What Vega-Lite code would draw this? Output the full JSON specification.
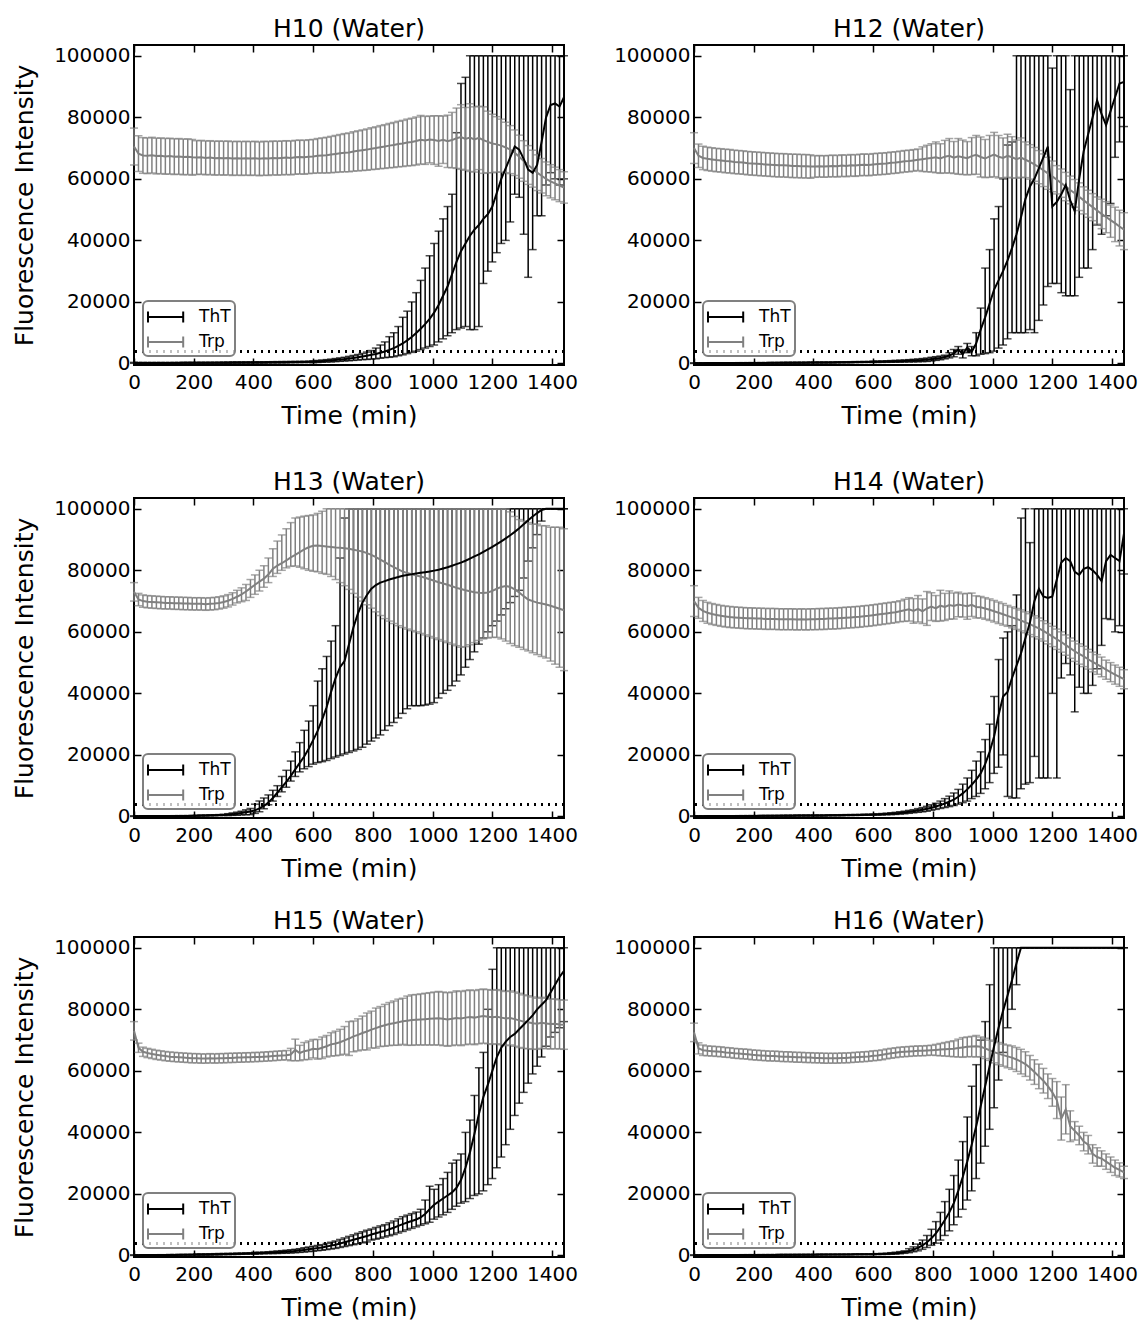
{
"$schema": "https://vega.github.io/schema/vega-lite/v6.json",
"padding": {"left": 11, "top": 16, "right": 5, "bottom": 2},
"config": {
  "font": "DejaVu Sans",
  "numberFormat": "d",
  "view": {"stroke": "black", "strokeWidth": 2},
  "axis": {"domain": false, "grid": false, "ticks": true, "tickColor": "black", "tickWidth": 1.5, "tickSize": -7, "labelFontSize": 20, "labelColor": "black", "titleFontSize": 25, "titleFontWeight": "normal", "titleColor": "black", "labelFlush": false, "labelOverlap": false},
  "axisX": {"labelPadding": 14, "titlePadding": 11},
  "axisY": {"labelPadding": 11, "titlePadding": 16},
  "title": {"fontSize": 25, "fontWeight": "normal", "color": "black", "offset": 2},
  "legend": {"orient": "bottom-left", "offset": 9, "padding": 4, "cornerRadius": 5, "strokeColor": "#808080", "strokeWidth": 2, "fillColor": "rgba(255,255,255,0.75)", "labelFontSize": 17, "labelColor": "black", "symbolType": "M-1,-0.5V0.5M2.2,-0.5V0.5M-1,0H2.2", "symbolSize": 484, "symbolStrokeWidth": 2, "labelOffset": 28, "rowPadding": 3}
},
"datasets": {
"H10": [
{"t":0,"tht":200,"thtL":50,"thtH":350,"trp":70500,"trpL":64500,"trpH":76500},
{"t":15,"tht":180,"thtL":30,"thtH":330,"trp":68200,"trpL":62400,"trpH":74000},
{"t":30,"tht":170,"thtL":20,"thtH":320,"trp":67600,"trpL":61800,"trpH":73400},
{"t":45,"tht":170,"thtL":20,"thtH":320,"trp":67500,"trpL":61700,"trpH":73300},
{"t":60,"tht":160,"thtL":10,"thtH":310,"trp":67700,"trpL":61900,"trpH":73500},
{"t":75,"tht":170,"thtL":20,"thtH":320,"trp":67400,"trpL":61600,"trpH":73200},
{"t":90,"tht":170,"thtL":20,"thtH":320,"trp":67500,"trpL":61700,"trpH":73300},
{"t":105,"tht":180,"thtL":30,"thtH":330,"trp":67300,"trpL":61500,"trpH":73100},
{"t":120,"tht":180,"thtL":30,"thtH":330,"trp":67400,"trpL":61600,"trpH":73200},
{"t":135,"tht":190,"thtL":40,"thtH":340,"trp":67200,"trpL":61400,"trpH":73000},
{"t":150,"tht":190,"thtL":40,"thtH":340,"trp":67300,"trpL":61500,"trpH":73100},
{"t":165,"tht":200,"thtL":50,"thtH":350,"trp":67100,"trpL":61300,"trpH":72900},
{"t":180,"tht":200,"thtL":50,"thtH":350,"trp":67200,"trpL":61400,"trpH":73000},
{"t":195,"tht":210,"thtL":60,"thtH":360,"trp":67000,"trpL":61200,"trpH":72800},
{"t":210,"tht":210,"thtL":60,"thtH":360,"trp":66900,"trpL":61400,"trpH":72400},
{"t":225,"tht":220,"thtL":70,"thtH":370,"trp":67000,"trpL":61500,"trpH":72500},
{"t":240,"tht":220,"thtL":70,"thtH":370,"trp":66800,"trpL":61300,"trpH":72300},
{"t":255,"tht":230,"thtL":80,"thtH":380,"trp":66900,"trpL":61400,"trpH":72400},
{"t":270,"tht":240,"thtL":90,"thtH":390,"trp":66700,"trpL":61200,"trpH":72200},
{"t":285,"tht":250,"thtL":100,"thtH":400,"trp":66800,"trpL":61300,"trpH":72300},
{"t":300,"tht":260,"thtL":60,"thtH":460,"trp":66700,"trpL":61200,"trpH":72200},
{"t":315,"tht":270,"thtL":70,"thtH":470,"trp":66800,"trpL":61300,"trpH":72300},
{"t":330,"tht":280,"thtL":80,"thtH":480,"trp":66600,"trpL":61100,"trpH":72100},
{"t":345,"tht":290,"thtL":90,"thtH":490,"trp":66700,"trpL":61200,"trpH":72200},
{"t":360,"tht":300,"thtL":100,"thtH":500,"trp":66600,"trpL":61100,"trpH":72100},
{"t":375,"tht":310,"thtL":110,"thtH":510,"trp":66700,"trpL":61200,"trpH":72200},
{"t":390,"tht":320,"thtL":120,"thtH":520,"trp":66600,"trpL":61100,"trpH":72100},
{"t":405,"tht":330,"thtL":130,"thtH":530,"trp":66700,"trpL":61200,"trpH":72200},
{"t":420,"tht":340,"thtL":140,"thtH":540,"trp":66500,"trpL":61000,"trpH":72000},
{"t":435,"tht":350,"thtL":150,"thtH":550,"trp":66700,"trpL":61200,"trpH":72200},
{"t":450,"tht":360,"thtL":160,"thtH":560,"trp":66600,"trpL":61100,"trpH":72100},
{"t":465,"tht":380,"thtL":180,"thtH":580,"trp":66800,"trpL":61300,"trpH":72300},
{"t":480,"tht":390,"thtL":190,"thtH":590,"trp":66700,"trpL":61200,"trpH":72200},
{"t":495,"tht":410,"thtL":210,"thtH":610,"trp":66800,"trpL":61300,"trpH":72300},
{"t":510,"tht":420,"thtL":220,"thtH":620,"trp":66900,"trpL":61400,"trpH":72400},
{"t":525,"tht":440,"thtL":240,"thtH":640,"trp":66800,"trpL":61300,"trpH":72300},
{"t":540,"tht":460,"thtL":260,"thtH":660,"trp":67000,"trpL":61500,"trpH":72500},
{"t":555,"tht":480,"thtL":280,"thtH":680,"trp":67100,"trpL":61600,"trpH":72600},
{"t":570,"tht":500,"thtL":300,"thtH":700,"trp":67000,"trpL":61500,"trpH":72500},
{"t":585,"tht":520,"thtL":320,"thtH":720,"trp":67200,"trpL":61700,"trpH":72700},
{"t":600,"tht":550,"thtL":250,"thtH":850,"trp":67300,"trpL":61800,"trpH":72800},
{"t":615,"tht":650,"thtL":320,"thtH":980,"trp":67500,"trpL":61900,"trpH":73100},
{"t":630,"tht":750,"thtL":390,"thtH":1110,"trp":67600,"trpL":61900,"trpH":73300},
{"t":645,"tht":850,"thtL":450,"thtH":1250,"trp":67700,"trpL":61900,"trpH":73500},
{"t":660,"tht":950,"thtL":500,"thtH":1400,"trp":67900,"trpL":62000,"trpH":73800},
{"t":675,"tht":1100,"thtL":600,"thtH":1600,"trp":68100,"trpL":62100,"trpH":74100},
{"t":690,"tht":1250,"thtL":700,"thtH":1800,"trp":68300,"trpL":62200,"trpH":74400},
{"t":705,"tht":1400,"thtL":800,"thtH":2000,"trp":68500,"trpL":62300,"trpH":74700},
{"t":720,"tht":1600,"thtL":900,"thtH":2300,"trp":68600,"trpL":62300,"trpH":74900},
{"t":735,"tht":1800,"thtL":1000,"thtH":2600,"trp":68900,"trpL":62500,"trpH":75300},
{"t":750,"tht":2000,"thtL":1100,"thtH":2900,"trp":69100,"trpL":62600,"trpH":75600},
{"t":765,"tht":2250,"thtL":1250,"thtH":3250,"trp":69300,"trpL":62700,"trpH":75900},
{"t":780,"tht":2500,"thtL":1300,"thtH":3700,"trp":69500,"trpL":62800,"trpH":76200},
{"t":795,"tht":2800,"thtL":1400,"thtH":4200,"trp":69800,"trpL":63000,"trpH":76600},
{"t":810,"tht":3100,"thtL":1500,"thtH":5000,"trp":70000,"trpL":63100,"trpH":76900},
{"t":825,"tht":3500,"thtL":1700,"thtH":6000,"trp":70300,"trpL":63300,"trpH":77300},
{"t":840,"tht":3900,"thtL":1900,"thtH":7000,"trp":70500,"trpL":63400,"trpH":77600},
{"t":855,"tht":4400,"thtL":2000,"thtH":8700,"trp":70800,"trpL":63600,"trpH":78000},
{"t":870,"tht":5000,"thtL":2200,"thtH":10000,"trp":71000,"trpL":63700,"trpH":78300},
{"t":885,"tht":5700,"thtL":2500,"thtH":12000,"trp":71300,"trpL":63900,"trpH":78700},
{"t":900,"tht":6500,"thtL":2800,"thtH":15000,"trp":71500,"trpL":64000,"trpH":79000},
{"t":915,"tht":7500,"thtL":3200,"thtH":17000,"trp":71800,"trpL":64200,"trpH":79400},
{"t":930,"tht":8600,"thtL":3600,"thtH":20000,"trp":72000,"trpL":64300,"trpH":79700},
{"t":945,"tht":9900,"thtL":4000,"thtH":23000,"trp":72300,"trpL":64500,"trpH":80100},
{"t":960,"tht":11300,"thtL":4500,"thtH":27000,"trp":72700,"trpL":64800,"trpH":80600},
{"t":975,"tht":12800,"thtL":5000,"thtH":31000,"trp":72500,"trpL":64700,"trpH":80300},
{"t":990,"tht":14500,"thtL":5500,"thtH":35000,"trp":72800,"trpL":65200,"trpH":80400},
{"t":1005,"tht":16500,"thtL":6000,"thtH":39000,"trp":72600,"trpL":64700,"trpH":80500},
{"t":1020,"tht":19000,"thtL":7000,"thtH":43000,"trp":72300,"trpL":64100,"trpH":80500},
{"t":1035,"tht":22000,"thtL":8000,"thtH":47000,"trp":72700,"trpL":65000,"trpH":80400},
{"t":1050,"tht":25000,"thtL":9000,"thtH":51000,"trp":72200,"trpL":63700,"trpH":80700},
{"t":1065,"tht":29000,"thtL":10000,"thtH":55000,"trp":72600,"trpL":63600,"trpH":81600},
{"t":1080,"tht":33000,"thtL":11000,"thtH":75000,"trp":73200,"trpL":63400,"trpH":83000},
{"t":1095,"tht":36500,"thtL":11500,"thtH":91000,"trp":73600,"trpL":63100,"trpH":84100},
{"t":1110,"tht":39000,"thtL":12000,"thtH":93000,"trp":73000,"trpL":62800,"trpH":83200},
{"t":1125,"tht":41500,"thtL":11000,"thtH":100000,"trp":73400,"trpL":62400,"trpH":84400},
{"t":1140,"tht":43500,"thtL":11000,"thtH":100000,"trp":72800,"trpL":62200,"trpH":83400},
{"t":1155,"tht":45000,"thtL":12000,"thtH":100000,"trp":73300,"trpL":63000,"trpH":83600},
{"t":1170,"tht":47000,"thtL":26000,"thtH":100000,"trp":72600,"trpL":61800,"trpH":83400},
{"t":1185,"tht":48500,"thtL":30000,"thtH":100000,"trp":72000,"trpL":62000,"trpH":82000},
{"t":1200,"tht":51000,"thtL":33000,"thtH":100000,"trp":71500,"trpL":62000,"trpH":81000},
{"t":1215,"tht":55500,"thtL":36000,"thtH":100000,"trp":71200,"trpL":62200,"trpH":80200},
{"t":1230,"tht":60000,"thtL":39000,"thtH":100000,"trp":70800,"trpL":62200,"trpH":79400},
{"t":1245,"tht":63500,"thtL":40000,"thtH":100000,"trp":70200,"trpL":62000,"trpH":78400},
{"t":1260,"tht":67000,"thtL":46000,"thtH":100000,"trp":69500,"trpL":61700,"trpH":77300},
{"t":1275,"tht":70500,"thtL":55000,"thtH":100000,"trp":68500,"trpL":61100,"trpH":75900},
{"t":1290,"tht":69500,"thtL":54000,"thtH":100000,"trp":67200,"trpL":60200,"trpH":74200},
{"t":1305,"tht":66500,"thtL":42000,"thtH":100000,"trp":65800,"trpL":59200,"trpH":72400},
{"t":1320,"tht":63000,"thtL":28000,"thtH":100000,"trp":64500,"trpL":58200,"trpH":70800},
{"t":1335,"tht":62000,"thtL":37000,"thtH":100000,"trp":63300,"trpL":57300,"trpH":69300},
{"t":1350,"tht":64500,"thtL":48000,"thtH":100000,"trp":62000,"trpL":56200,"trpH":67800},
{"t":1365,"tht":72000,"thtL":48000,"thtH":100000,"trp":61000,"trpL":55400,"trpH":66600},
{"t":1380,"tht":80000,"thtL":58000,"thtH":100000,"trp":60000,"trpL":54500,"trpH":65500},
{"t":1395,"tht":84000,"thtL":62000,"thtH":100000,"trp":59200,"trpL":53800,"trpH":64600},
{"t":1410,"tht":84500,"thtL":60000,"thtH":100000,"trp":58500,"trpL":53200,"trpH":63800},
{"t":1425,"tht":83500,"thtL":58000,"thtH":100000,"trp":57800,"trpL":52600,"trpH":63000},
{"t":1440,"tht":86500,"thtL":60000,"thtH":100000,"trp":57200,"trpL":52100,"trpH":62300}
],
"H12": [
{"t":0,"tht":100,"thtL":0,"thtH":200,"trp":70000,"trpL":65000,"trpH":75000},
{"t":15,"tht":100,"thtL":0,"thtH":200,"trp":67500,"trpL":63700,"trpH":71300},
{"t":30,"tht":100,"thtL":0,"thtH":200,"trp":66800,"trpL":63000,"trpH":70600},
{"t":45,"tht":110,"thtL":10,"thtH":210,"trp":66500,"trpL":62700,"trpH":70300},
{"t":60,"tht":110,"thtL":10,"thtH":210,"trp":66300,"trpL":62500,"trpH":70100},
{"t":75,"tht":120,"thtL":20,"thtH":220,"trp":66100,"trpL":62300,"trpH":69900},
{"t":90,"tht":120,"thtL":20,"thtH":220,"trp":66000,"trpL":62200,"trpH":69800},
{"t":105,"tht":130,"thtL":30,"thtH":230,"trp":65800,"trpL":62000,"trpH":69600},
{"t":120,"tht":130,"thtL":30,"thtH":230,"trp":65700,"trpL":61900,"trpH":69500},
{"t":135,"tht":140,"thtL":40,"thtH":240,"trp":65500,"trpL":61700,"trpH":69300},
{"t":150,"tht":150,"thtL":50,"thtH":250,"trp":65400,"trpL":61600,"trpH":69200},
{"t":165,"tht":150,"thtL":50,"thtH":250,"trp":65300,"trpL":61500,"trpH":69100},
{"t":180,"tht":160,"thtL":60,"thtH":260,"trp":65100,"trpL":61300,"trpH":68900},
{"t":195,"tht":170,"thtL":70,"thtH":270,"trp":65000,"trpL":61200,"trpH":68800},
{"t":210,"tht":170,"thtL":70,"thtH":270,"trp":64900,"trpL":61100,"trpH":68700},
{"t":225,"tht":180,"thtL":80,"thtH":280,"trp":64800,"trpL":61000,"trpH":68600},
{"t":240,"tht":190,"thtL":90,"thtH":290,"trp":64700,"trpL":60900,"trpH":68500},
{"t":255,"tht":200,"thtL":100,"thtH":300,"trp":64600,"trpL":60800,"trpH":68400},
{"t":270,"tht":200,"thtL":100,"thtH":300,"trp":64500,"trpL":60700,"trpH":68300},
{"t":285,"tht":210,"thtL":110,"thtH":310,"trp":64400,"trpL":60600,"trpH":68200},
{"t":300,"tht":220,"thtL":70,"thtH":370,"trp":64400,"trpL":60600,"trpH":68200},
{"t":315,"tht":230,"thtL":80,"thtH":380,"trp":64300,"trpL":60500,"trpH":68100},
{"t":330,"tht":240,"thtL":90,"thtH":390,"trp":64200,"trpL":60400,"trpH":68000},
{"t":345,"tht":250,"thtL":100,"thtH":400,"trp":64200,"trpL":60400,"trpH":68000},
{"t":360,"tht":260,"thtL":110,"thtH":410,"trp":64100,"trpL":60300,"trpH":67900},
{"t":375,"tht":270,"thtL":120,"thtH":420,"trp":64100,"trpL":60300,"trpH":67900},
{"t":390,"tht":280,"thtL":130,"thtH":430,"trp":64000,"trpL":60200,"trpH":67800},
{"t":405,"tht":290,"thtL":140,"thtH":440,"trp":64000,"trpL":60500,"trpH":67500},
{"t":420,"tht":300,"thtL":150,"thtH":450,"trp":64100,"trpL":60600,"trpH":67600},
{"t":435,"tht":310,"thtL":160,"thtH":460,"trp":64000,"trpL":60500,"trpH":67500},
{"t":450,"tht":330,"thtL":180,"thtH":480,"trp":64100,"trpL":60600,"trpH":67600},
{"t":465,"tht":340,"thtL":190,"thtH":490,"trp":64200,"trpL":60700,"trpH":67700},
{"t":480,"tht":360,"thtL":210,"thtH":510,"trp":64100,"trpL":60600,"trpH":67600},
{"t":495,"tht":380,"thtL":230,"thtH":530,"trp":64300,"trpL":60800,"trpH":67800},
{"t":510,"tht":400,"thtL":250,"thtH":550,"trp":64200,"trpL":60700,"trpH":67700},
{"t":525,"tht":420,"thtL":270,"thtH":570,"trp":64400,"trpL":60900,"trpH":67900},
{"t":540,"tht":440,"thtL":290,"thtH":590,"trp":64300,"trpL":60800,"trpH":67800},
{"t":555,"tht":460,"thtL":310,"thtH":610,"trp":64500,"trpL":61000,"trpH":68000},
{"t":570,"tht":480,"thtL":330,"thtH":630,"trp":64600,"trpL":61100,"trpH":68100},
{"t":585,"tht":500,"thtL":350,"thtH":650,"trp":64500,"trpL":61000,"trpH":68000},
{"t":600,"tht":530,"thtL":330,"thtH":730,"trp":64700,"trpL":61200,"trpH":68200},
{"t":615,"tht":560,"thtL":340,"thtH":780,"trp":64800,"trpL":61300,"trpH":68300},
{"t":630,"tht":590,"thtL":360,"thtH":820,"trp":64900,"trpL":61400,"trpH":68400},
{"t":645,"tht":620,"thtL":370,"thtH":870,"trp":65000,"trpL":61500,"trpH":68500},
{"t":660,"tht":660,"thtL":390,"thtH":930,"trp":65200,"trpL":61700,"trpH":68700},
{"t":675,"tht":700,"thtL":400,"thtH":1000,"trp":65300,"trpL":61800,"trpH":68800},
{"t":690,"tht":750,"thtL":430,"thtH":1070,"trp":65500,"trpL":62000,"trpH":69000},
{"t":705,"tht":800,"thtL":450,"thtH":1150,"trp":65700,"trpL":62200,"trpH":69200},
{"t":720,"tht":860,"thtL":480,"thtH":1240,"trp":65800,"trpL":62300,"trpH":69300},
{"t":735,"tht":920,"thtL":500,"thtH":1340,"trp":66000,"trpL":62500,"trpH":69500},
{"t":750,"tht":1000,"thtL":550,"thtH":1450,"trp":66200,"trpL":62700,"trpH":69700},
{"t":765,"tht":1100,"thtL":600,"thtH":1600,"trp":66400,"trpL":62400,"trpH":70400},
{"t":780,"tht":1200,"thtL":650,"thtH":1750,"trp":66600,"trpL":62300,"trpH":70900},
{"t":795,"tht":1400,"thtL":800,"thtH":2000,"trp":66800,"trpL":62200,"trpH":71400},
{"t":810,"tht":1600,"thtL":1000,"thtH":2200,"trp":67000,"trpL":62000,"trpH":72000},
{"t":825,"tht":1800,"thtL":1200,"thtH":2400,"trp":66600,"trpL":61800,"trpH":71400},
{"t":840,"tht":2100,"thtL":1500,"thtH":2700,"trp":67200,"trpL":61900,"trpH":72500},
{"t":855,"tht":2600,"thtL":1800,"thtH":3500,"trp":67500,"trpL":61900,"trpH":73100},
{"t":870,"tht":3200,"thtL":2200,"thtH":4500,"trp":66900,"trpL":61700,"trpH":72100},
{"t":885,"tht":4500,"thtL":3000,"thtH":5500,"trp":67300,"trpL":61500,"trpH":73100},
{"t":900,"tht":3000,"thtL":1800,"thtH":4500,"trp":67000,"trpL":61400,"trpH":72600},
{"t":915,"tht":5200,"thtL":3500,"thtH":6500,"trp":66700,"trpL":61300,"trpH":72100},
{"t":930,"tht":3800,"thtL":2500,"thtH":5500,"trp":67400,"trpL":61400,"trpH":73400},
{"t":945,"tht":6500,"thtL":2500,"thtH":10000,"trp":67800,"trpL":61500,"trpH":74100},
{"t":960,"tht":11000,"thtL":3000,"thtH":18000,"trp":67100,"trpL":60600,"trpH":73600},
{"t":975,"tht":15000,"thtL":3200,"thtH":31000,"trp":66600,"trpL":60400,"trpH":72800},
{"t":990,"tht":19500,"thtL":3500,"thtH":37000,"trp":67300,"trpL":60500,"trpH":74100},
{"t":1005,"tht":24000,"thtL":4000,"thtH":47000,"trp":67900,"trpL":60700,"trpH":75100},
{"t":1020,"tht":27000,"thtL":5000,"thtH":51000,"trp":67200,"trpL":60300,"trpH":74100},
{"t":1035,"tht":30000,"thtL":6000,"thtH":60000,"trp":66800,"trpL":60300,"trpH":73300},
{"t":1050,"tht":33500,"thtL":8000,"thtH":71000,"trp":67500,"trpL":60500,"trpH":74500},
{"t":1065,"tht":37500,"thtL":10000,"thtH":72000,"trp":67000,"trpL":60300,"trpH":73700},
{"t":1080,"tht":42000,"thtL":10000,"thtH":100000,"trp":66400,"trpL":60200,"trpH":72600},
{"t":1095,"tht":47500,"thtL":10000,"thtH":100000,"trp":66900,"trpL":60500,"trpH":73300},
{"t":1110,"tht":53500,"thtL":10000,"thtH":100000,"trp":66200,"trpL":60400,"trpH":72000},
{"t":1125,"tht":57500,"thtL":11000,"thtH":100000,"trp":65500,"trpL":59900,"trpH":71100},
{"t":1140,"tht":60000,"thtL":10000,"thtH":100000,"trp":64700,"trpL":59200,"trpH":70200},
{"t":1155,"tht":63500,"thtL":14000,"thtH":100000,"trp":63800,"trpL":58400,"trpH":69200},
{"t":1170,"tht":67000,"thtL":19000,"thtH":100000,"trp":62800,"trpL":57500,"trpH":68100},
{"t":1185,"tht":70500,"thtL":25000,"thtH":100000,"trp":61800,"trpL":56600,"trpH":67000},
{"t":1200,"tht":51000,"thtL":26000,"thtH":96000,"trp":60800,"trpL":55800,"trpH":65800},
{"t":1215,"tht":52500,"thtL":26000,"thtH":100000,"trp":59700,"trpL":55100,"trpH":64300},
{"t":1230,"tht":55000,"thtL":23000,"thtH":100000,"trp":58600,"trpL":54000,"trpH":63200},
{"t":1245,"tht":58000,"thtL":22000,"thtH":100000,"trp":57500,"trpL":52900,"trpH":62100},
{"t":1260,"tht":53000,"thtL":22000,"thtH":89000,"trp":56400,"trpL":51900,"trpH":60900},
{"t":1275,"tht":49500,"thtL":22000,"thtH":100000,"trp":55300,"trpL":50800,"trpH":59800},
{"t":1290,"tht":60000,"thtL":28000,"thtH":100000,"trp":54200,"trpL":49700,"trpH":58700},
{"t":1305,"tht":69000,"thtL":31000,"thtH":100000,"trp":53000,"trpL":48600,"trpH":57400},
{"t":1320,"tht":74500,"thtL":31000,"thtH":100000,"trp":51900,"trpL":47500,"trpH":56300},
{"t":1335,"tht":80000,"thtL":37000,"thtH":100000,"trp":50800,"trpL":46400,"trpH":55200},
{"t":1350,"tht":85500,"thtL":45000,"thtH":100000,"trp":49700,"trpL":45300,"trpH":54100},
{"t":1365,"tht":81000,"thtL":42000,"thtH":100000,"trp":48600,"trpL":43800,"trpH":53400},
{"t":1380,"tht":77500,"thtL":48000,"thtH":100000,"trp":47600,"trpL":42500,"trpH":52600},
{"t":1395,"tht":82000,"thtL":52000,"thtH":100000,"trp":46600,"trpL":41000,"trpH":51500},
{"t":1410,"tht":86500,"thtL":67000,"thtH":100000,"trp":45600,"trpL":39600,"trpH":50800},
{"t":1425,"tht":91000,"thtL":72000,"thtH":100000,"trp":44500,"trpL":38200,"trpH":49800},
{"t":1440,"tht":91500,"thtL":77000,"thtH":100000,"trp":43500,"trpL":37000,"trpH":49000}
],
"H13": [
{"t":0,"tht":100,"thtL":0,"thtH":200,"trp":73000,"trpL":70000,"trpH":76000},
{"t":15,"tht":100,"thtL":0,"thtH":200,"trp":70500,"trpL":68500,"trpH":72500},
{"t":30,"tht":110,"thtL":10,"thtH":210,"trp":70000,"trpL":68000,"trpH":72000},
{"t":45,"tht":110,"thtL":10,"thtH":210,"trp":69800,"trpL":67800,"trpH":71800},
{"t":60,"tht":120,"thtL":20,"thtH":220,"trp":69700,"trpL":67700,"trpH":71700},
{"t":75,"tht":120,"thtL":20,"thtH":220,"trp":69600,"trpL":67600,"trpH":71600},
{"t":90,"tht":130,"thtL":30,"thtH":230,"trp":69500,"trpL":67500,"trpH":71500},
{"t":105,"tht":130,"thtL":30,"thtH":230,"trp":69400,"trpL":67400,"trpH":71400},
{"t":120,"tht":140,"thtL":40,"thtH":240,"trp":69400,"trpL":67400,"trpH":71400},
{"t":135,"tht":150,"thtL":50,"thtH":250,"trp":69300,"trpL":67300,"trpH":71300},
{"t":150,"tht":160,"thtL":60,"thtH":260,"trp":69300,"trpL":67300,"trpH":71300},
{"t":165,"tht":170,"thtL":70,"thtH":270,"trp":69200,"trpL":67200,"trpH":71200},
{"t":180,"tht":180,"thtL":80,"thtH":280,"trp":69200,"trpL":67200,"trpH":71200},
{"t":195,"tht":200,"thtL":100,"thtH":300,"trp":69100,"trpL":67100,"trpH":71100},
{"t":210,"tht":250,"thtL":100,"thtH":400,"trp":69100,"trpL":67100,"trpH":71100},
{"t":225,"tht":280,"thtL":130,"thtH":430,"trp":69100,"trpL":67100,"trpH":71100},
{"t":240,"tht":320,"thtL":170,"thtH":470,"trp":69000,"trpL":67000,"trpH":71000},
{"t":255,"tht":360,"thtL":210,"thtH":510,"trp":69100,"trpL":67100,"trpH":71100},
{"t":270,"tht":400,"thtL":250,"thtH":550,"trp":69200,"trpL":67200,"trpH":71200},
{"t":285,"tht":450,"thtL":300,"thtH":600,"trp":69400,"trpL":67400,"trpH":71400},
{"t":300,"tht":500,"thtL":300,"thtH":700,"trp":69700,"trpL":67700,"trpH":71700},
{"t":315,"tht":600,"thtL":300,"thtH":900,"trp":70100,"trpL":68100,"trpH":72100},
{"t":330,"tht":750,"thtL":350,"thtH":1150,"trp":70700,"trpL":68700,"trpH":72700},
{"t":345,"tht":900,"thtL":400,"thtH":1400,"trp":71400,"trpL":69400,"trpH":73500},
{"t":360,"tht":1100,"thtL":500,"thtH":1700,"trp":72200,"trpL":69800,"trpH":74300},
{"t":375,"tht":1350,"thtL":550,"thtH":2150,"trp":73100,"trpL":70200,"trpH":75400},
{"t":390,"tht":1600,"thtL":600,"thtH":2600,"trp":74200,"trpL":71200,"trpH":77000},
{"t":405,"tht":2000,"thtL":1000,"thtH":4000,"trp":75300,"trpL":72200,"trpH":78500},
{"t":420,"tht":2600,"thtL":1500,"thtH":5000,"trp":76300,"trpL":73300,"trpH":80000},
{"t":435,"tht":3400,"thtL":2500,"thtH":6000,"trp":77300,"trpL":74500,"trpH":81500},
{"t":450,"tht":4500,"thtL":3800,"thtH":7000,"trp":78600,"trpL":76000,"trpH":84000},
{"t":465,"tht":6000,"thtL":5000,"thtH":8500,"trp":80500,"trpL":78000,"trpH":87000},
{"t":480,"tht":7700,"thtL":6500,"thtH":10000,"trp":81500,"trpL":79000,"trpH":89500},
{"t":495,"tht":9500,"thtL":8000,"thtH":13000,"trp":82300,"trpL":80000,"trpH":91500},
{"t":510,"tht":11200,"thtL":9500,"thtH":15000,"trp":83200,"trpL":80800,"trpH":93500},
{"t":525,"tht":13200,"thtL":11500,"thtH":18000,"trp":84200,"trpL":81300,"trpH":95500},
{"t":540,"tht":15300,"thtL":13000,"thtH":21000,"trp":85000,"trpL":81400,"trpH":97000},
{"t":555,"tht":17400,"thtL":14500,"thtH":24000,"trp":85900,"trpL":81000,"trpH":97300},
{"t":570,"tht":19500,"thtL":15500,"thtH":28000,"trp":86800,"trpL":80500,"trpH":97600},
{"t":585,"tht":22000,"thtL":16200,"thtH":31000,"trp":87500,"trpL":80000,"trpH":97800},
{"t":600,"tht":24800,"thtL":17000,"thtH":36000,"trp":88000,"trpL":79700,"trpH":98000},
{"t":615,"tht":27800,"thtL":17500,"thtH":44000,"trp":88100,"trpL":79500,"trpH":98500},
{"t":630,"tht":31500,"thtL":17800,"thtH":48000,"trp":87900,"trpL":79000,"trpH":99200},
{"t":645,"tht":35500,"thtL":18200,"thtH":52000,"trp":87700,"trpL":78700,"trpH":100000},
{"t":660,"tht":40500,"thtL":18800,"thtH":57000,"trp":87600,"trpL":78000,"trpH":100000},
{"t":675,"tht":45000,"thtL":19300,"thtH":62000,"trp":87400,"trpL":77000,"trpH":100000},
{"t":690,"tht":48500,"thtL":19800,"thtH":84000,"trp":87300,"trpL":76000,"trpH":100000},
{"t":705,"tht":50500,"thtL":20300,"thtH":97000,"trp":87200,"trpL":75000,"trpH":100000},
{"t":720,"tht":56000,"thtL":20800,"thtH":100000,"trp":87000,"trpL":73800,"trpH":100000},
{"t":735,"tht":61500,"thtL":21300,"thtH":100000,"trp":86700,"trpL":72500,"trpH":100000},
{"t":750,"tht":66000,"thtL":21800,"thtH":100000,"trp":86400,"trpL":71300,"trpH":100000},
{"t":765,"tht":69500,"thtL":22500,"thtH":100000,"trp":86100,"trpL":70000,"trpH":100000},
{"t":780,"tht":72000,"thtL":23500,"thtH":100000,"trp":85600,"trpL":68800,"trpH":100000},
{"t":795,"tht":74000,"thtL":24500,"thtH":100000,"trp":85000,"trpL":67700,"trpH":100000},
{"t":810,"tht":75200,"thtL":25500,"thtH":100000,"trp":84300,"trpL":66500,"trpH":100000},
{"t":825,"tht":76000,"thtL":26500,"thtH":100000,"trp":83500,"trpL":65300,"trpH":100000},
{"t":840,"tht":76500,"thtL":28000,"thtH":100000,"trp":82700,"trpL":64300,"trpH":100000},
{"t":855,"tht":77000,"thtL":29500,"thtH":100000,"trp":81800,"trpL":63500,"trpH":100000},
{"t":870,"tht":77400,"thtL":30500,"thtH":100000,"trp":81000,"trpL":62700,"trpH":100000},
{"t":885,"tht":77800,"thtL":32000,"thtH":100000,"trp":80300,"trpL":62000,"trpH":100000},
{"t":900,"tht":78200,"thtL":33500,"thtH":100000,"trp":79600,"trpL":61400,"trpH":100000},
{"t":915,"tht":78500,"thtL":35000,"thtH":100000,"trp":79100,"trpL":60900,"trpH":100000},
{"t":930,"tht":78700,"thtL":36000,"thtH":100000,"trp":78700,"trpL":60400,"trpH":100000},
{"t":945,"tht":79000,"thtL":36000,"thtH":100000,"trp":78300,"trpL":60000,"trpH":100000},
{"t":960,"tht":79200,"thtL":36000,"thtH":100000,"trp":78000,"trpL":59500,"trpH":100000},
{"t":975,"tht":79400,"thtL":36200,"thtH":100000,"trp":77600,"trpL":59000,"trpH":100000},
{"t":990,"tht":79600,"thtL":36500,"thtH":100000,"trp":77100,"trpL":58500,"trpH":100000},
{"t":1005,"tht":79900,"thtL":37000,"thtH":100000,"trp":76600,"trpL":58000,"trpH":100000},
{"t":1020,"tht":80200,"thtL":38500,"thtH":100000,"trp":76100,"trpL":57500,"trpH":100000},
{"t":1035,"tht":80600,"thtL":40000,"thtH":100000,"trp":75700,"trpL":57000,"trpH":100000},
{"t":1050,"tht":81000,"thtL":41000,"thtH":100000,"trp":75300,"trpL":56500,"trpH":100000},
{"t":1065,"tht":81500,"thtL":42500,"thtH":100000,"trp":74800,"trpL":56000,"trpH":100000},
{"t":1080,"tht":82000,"thtL":44000,"thtH":100000,"trp":74300,"trpL":55500,"trpH":100000},
{"t":1095,"tht":82500,"thtL":46000,"thtH":100000,"trp":73900,"trpL":55000,"trpH":100000},
{"t":1110,"tht":83100,"thtL":48500,"thtH":100000,"trp":73500,"trpL":55200,"trpH":100000},
{"t":1125,"tht":83800,"thtL":51000,"thtH":100000,"trp":73200,"trpL":55800,"trpH":100000},
{"t":1140,"tht":84500,"thtL":53500,"thtH":100000,"trp":72900,"trpL":56500,"trpH":100000},
{"t":1155,"tht":85200,"thtL":56000,"thtH":100000,"trp":72700,"trpL":57200,"trpH":100000},
{"t":1170,"tht":86000,"thtL":58000,"thtH":100000,"trp":72600,"trpL":57700,"trpH":100000},
{"t":1185,"tht":86800,"thtL":60000,"thtH":100000,"trp":72800,"trpL":58000,"trpH":100000},
{"t":1200,"tht":87600,"thtL":62000,"thtH":100000,"trp":73300,"trpL":58200,"trpH":100000},
{"t":1215,"tht":88500,"thtL":63500,"thtH":100000,"trp":74000,"trpL":58200,"trpH":100000},
{"t":1230,"tht":89400,"thtL":65500,"thtH":100000,"trp":74600,"trpL":57700,"trpH":100000},
{"t":1245,"tht":90400,"thtL":67500,"thtH":100000,"trp":74900,"trpL":57000,"trpH":100000},
{"t":1260,"tht":91400,"thtL":69500,"thtH":100000,"trp":74600,"trpL":56200,"trpH":99000},
{"t":1275,"tht":92500,"thtL":71500,"thtH":100000,"trp":73800,"trpL":55500,"trpH":97500},
{"t":1290,"tht":93700,"thtL":73500,"thtH":100000,"trp":72800,"trpL":55000,"trpH":96500},
{"t":1305,"tht":95000,"thtL":77500,"thtH":100000,"trp":71600,"trpL":54300,"trpH":96000},
{"t":1320,"tht":96300,"thtL":83000,"thtH":100000,"trp":70500,"trpL":53800,"trpH":95500},
{"t":1335,"tht":97500,"thtL":87300,"thtH":100000,"trp":70000,"trpL":53200,"trpH":95000},
{"t":1350,"tht":98600,"thtL":91600,"thtH":100000,"trp":69500,"trpL":52600,"trpH":95000},
{"t":1365,"tht":99600,"thtL":96000,"thtH":100000,"trp":69200,"trpL":52000,"trpH":94500},
{"t":1380,"tht":100000,"thtL":100000,"thtH":100000,"trp":68900,"trpL":51500,"trpH":94500},
{"t":1395,"tht":100000,"thtL":100000,"thtH":100000,"trp":68500,"trpL":50500,"trpH":94000},
{"t":1410,"tht":100000,"thtL":100000,"thtH":100000,"trp":68000,"trpL":49500,"trpH":94000},
{"t":1425,"tht":100000,"thtL":100000,"thtH":100000,"trp":67500,"trpL":48500,"trpH":94000},
{"t":1440,"tht":100000,"thtL":100000,"thtH":100000,"trp":67000,"trpL":47400,"trpH":93500}
],
"H14": [
{"t":0,"tht":100,"thtL":0,"thtH":200,"trp":70000,"trpL":65000,"trpH":75000},
{"t":15,"tht":100,"thtL":0,"thtH":200,"trp":67800,"trpL":64400,"trpH":71200},
{"t":30,"tht":100,"thtL":0,"thtH":200,"trp":66800,"trpL":63400,"trpH":70200},
{"t":45,"tht":110,"thtL":10,"thtH":210,"trp":66200,"trpL":62800,"trpH":69600},
{"t":60,"tht":110,"thtL":10,"thtH":210,"trp":65800,"trpL":62400,"trpH":69200},
{"t":75,"tht":120,"thtL":20,"thtH":220,"trp":65500,"trpL":62100,"trpH":68900},
{"t":90,"tht":120,"thtL":20,"thtH":220,"trp":65200,"trpL":61800,"trpH":68600},
{"t":105,"tht":130,"thtL":30,"thtH":230,"trp":65000,"trpL":61600,"trpH":68400},
{"t":120,"tht":140,"thtL":40,"thtH":240,"trp":64800,"trpL":61400,"trpH":68200},
{"t":135,"tht":140,"thtL":40,"thtH":240,"trp":64700,"trpL":61300,"trpH":68100},
{"t":150,"tht":150,"thtL":50,"thtH":250,"trp":64600,"trpL":61200,"trpH":68000},
{"t":165,"tht":160,"thtL":60,"thtH":260,"trp":64500,"trpL":61100,"trpH":67900},
{"t":180,"tht":170,"thtL":70,"thtH":270,"trp":64400,"trpL":61000,"trpH":67800},
{"t":195,"tht":180,"thtL":80,"thtH":280,"trp":64400,"trpL":61000,"trpH":67800},
{"t":210,"tht":190,"thtL":90,"thtH":290,"trp":64300,"trpL":60900,"trpH":67700},
{"t":225,"tht":200,"thtL":100,"thtH":300,"trp":64300,"trpL":60900,"trpH":67700},
{"t":240,"tht":210,"thtL":110,"thtH":310,"trp":64200,"trpL":60800,"trpH":67600},
{"t":255,"tht":220,"thtL":120,"thtH":320,"trp":64200,"trpL":60800,"trpH":67600},
{"t":270,"tht":230,"thtL":130,"thtH":330,"trp":64200,"trpL":60800,"trpH":67600},
{"t":285,"tht":240,"thtL":140,"thtH":340,"trp":64100,"trpL":60700,"trpH":67500},
{"t":300,"tht":250,"thtL":100,"thtH":400,"trp":64100,"trpL":60700,"trpH":67500},
{"t":315,"tht":260,"thtL":110,"thtH":410,"trp":64100,"trpL":60700,"trpH":67500},
{"t":330,"tht":270,"thtL":120,"thtH":420,"trp":64100,"trpL":60700,"trpH":67500},
{"t":345,"tht":280,"thtL":130,"thtH":430,"trp":64000,"trpL":60600,"trpH":67400},
{"t":360,"tht":290,"thtL":140,"thtH":440,"trp":64100,"trpL":60700,"trpH":67500},
{"t":375,"tht":300,"thtL":150,"thtH":450,"trp":64000,"trpL":60600,"trpH":67400},
{"t":390,"tht":310,"thtL":160,"thtH":460,"trp":64100,"trpL":60700,"trpH":67500},
{"t":405,"tht":320,"thtL":170,"thtH":470,"trp":64100,"trpL":60700,"trpH":67500},
{"t":420,"tht":330,"thtL":180,"thtH":480,"trp":64200,"trpL":60800,"trpH":67600},
{"t":435,"tht":340,"thtL":190,"thtH":490,"trp":64200,"trpL":60800,"trpH":67600},
{"t":450,"tht":360,"thtL":210,"thtH":510,"trp":64300,"trpL":60900,"trpH":67700},
{"t":465,"tht":380,"thtL":230,"thtH":530,"trp":64300,"trpL":60900,"trpH":67700},
{"t":480,"tht":400,"thtL":250,"thtH":550,"trp":64400,"trpL":61000,"trpH":67800},
{"t":495,"tht":420,"thtL":270,"thtH":570,"trp":64500,"trpL":61100,"trpH":67900},
{"t":510,"tht":440,"thtL":290,"thtH":590,"trp":64600,"trpL":61200,"trpH":68000},
{"t":525,"tht":460,"thtL":310,"thtH":610,"trp":64700,"trpL":61300,"trpH":68100},
{"t":540,"tht":480,"thtL":330,"thtH":630,"trp":64800,"trpL":61400,"trpH":68200},
{"t":555,"tht":510,"thtL":360,"thtH":660,"trp":64900,"trpL":61500,"trpH":68300},
{"t":570,"tht":540,"thtL":390,"thtH":690,"trp":65100,"trpL":61700,"trpH":68500},
{"t":585,"tht":570,"thtL":420,"thtH":720,"trp":65200,"trpL":61800,"trpH":68600},
{"t":600,"tht":600,"thtL":450,"thtH":750,"trp":65400,"trpL":62000,"trpH":68800},
{"t":615,"tht":650,"thtL":450,"thtH":850,"trp":65600,"trpL":62200,"trpH":69000},
{"t":630,"tht":720,"thtL":490,"thtH":950,"trp":65800,"trpL":62400,"trpH":69200},
{"t":645,"tht":800,"thtL":540,"thtH":1060,"trp":66000,"trpL":62600,"trpH":69400},
{"t":660,"tht":900,"thtL":600,"thtH":1200,"trp":66200,"trpL":62800,"trpH":69600},
{"t":675,"tht":1000,"thtL":660,"thtH":1340,"trp":66400,"trpL":63000,"trpH":69800},
{"t":690,"tht":1150,"thtL":770,"thtH":1530,"trp":66700,"trpL":63300,"trpH":70100},
{"t":705,"tht":1300,"thtL":880,"thtH":1720,"trp":67000,"trpL":63400,"trpH":70600},
{"t":720,"tht":1500,"thtL":1030,"thtH":1970,"trp":67300,"trpL":63500,"trpH":71100},
{"t":735,"tht":1700,"thtL":1200,"thtH":2200,"trp":66800,"trpL":62800,"trpH":70800},
{"t":750,"tht":1950,"thtL":1350,"thtH":2550,"trp":67500,"trpL":63200,"trpH":71800},
{"t":765,"tht":2200,"thtL":1500,"thtH":2900,"trp":66700,"trpL":62700,"trpH":70700},
{"t":780,"tht":2500,"thtL":1700,"thtH":3300,"trp":67600,"trpL":62100,"trpH":73100},
{"t":795,"tht":2850,"thtL":2000,"thtH":3800,"trp":68200,"trpL":63700,"trpH":72700},
{"t":810,"tht":3250,"thtL":2300,"thtH":4300,"trp":67600,"trpL":63400,"trpH":71800},
{"t":825,"tht":3700,"thtL":2600,"thtH":5000,"trp":68500,"trpL":63500,"trpH":73500},
{"t":840,"tht":4200,"thtL":2900,"thtH":5800,"trp":68100,"trpL":63700,"trpH":72500},
{"t":855,"tht":4800,"thtL":3200,"thtH":6600,"trp":68700,"trpL":64100,"trpH":73300},
{"t":870,"tht":5500,"thtL":3600,"thtH":7600,"trp":68400,"trpL":64200,"trpH":72600},
{"t":885,"tht":6400,"thtL":4000,"thtH":8800,"trp":68900,"trpL":64900,"trpH":72900},
{"t":900,"tht":7500,"thtL":4500,"thtH":10500,"trp":68600,"trpL":64800,"trpH":72400},
{"t":915,"tht":8800,"thtL":5000,"thtH":12500,"trp":68300,"trpL":64100,"trpH":72500},
{"t":930,"tht":10300,"thtL":5800,"thtH":15000,"trp":68800,"trpL":65000,"trpH":72600},
{"t":945,"tht":12000,"thtL":6500,"thtH":18000,"trp":68100,"trpL":64500,"trpH":71700},
{"t":960,"tht":14000,"thtL":7500,"thtH":21000,"trp":68000,"trpL":64500,"trpH":71500},
{"t":975,"tht":17000,"thtL":9000,"thtH":25000,"trp":67600,"trpL":64100,"trpH":71100},
{"t":990,"tht":21000,"thtL":11000,"thtH":30000,"trp":67200,"trpL":63700,"trpH":70700},
{"t":1005,"tht":26000,"thtL":14000,"thtH":39000,"trp":66700,"trpL":63200,"trpH":70200},
{"t":1020,"tht":33000,"thtL":16000,"thtH":51000,"trp":66200,"trpL":62700,"trpH":69700},
{"t":1035,"tht":39000,"thtL":20000,"thtH":58000,"trp":65700,"trpL":62200,"trpH":69200},
{"t":1050,"tht":40500,"thtL":6500,"thtH":60000,"trp":65200,"trpL":61800,"trpH":68600},
{"t":1065,"tht":45000,"thtL":6000,"thtH":62000,"trp":64700,"trpL":61300,"trpH":68100},
{"t":1080,"tht":49000,"thtL":6000,"thtH":72000,"trp":64200,"trpL":60800,"trpH":67600},
{"t":1095,"tht":53000,"thtL":9000,"thtH":97000,"trp":63700,"trpL":60300,"trpH":67100},
{"t":1110,"tht":58000,"thtL":10500,"thtH":100000,"trp":63100,"trpL":59700,"trpH":66500},
{"t":1125,"tht":63000,"thtL":11000,"thtH":89000,"trp":62500,"trpL":59100,"trpH":65900},
{"t":1140,"tht":70000,"thtL":19500,"thtH":100000,"trp":61800,"trpL":58400,"trpH":65200},
{"t":1155,"tht":74000,"thtL":12500,"thtH":100000,"trp":61100,"trpL":57700,"trpH":64500},
{"t":1170,"tht":71500,"thtL":12500,"thtH":100000,"trp":60300,"trpL":57000,"trpH":63600},
{"t":1185,"tht":71000,"thtL":12500,"thtH":100000,"trp":59400,"trpL":56100,"trpH":62700},
{"t":1200,"tht":71500,"thtL":40000,"thtH":100000,"trp":58500,"trpL":55200,"trpH":61800},
{"t":1215,"tht":77000,"thtL":12500,"thtH":100000,"trp":57600,"trpL":54300,"trpH":60900},
{"t":1230,"tht":82500,"thtL":45000,"thtH":100000,"trp":56700,"trpL":53400,"trpH":60000},
{"t":1245,"tht":84000,"thtL":49700,"thtH":100000,"trp":55700,"trpL":52400,"trpH":59000},
{"t":1260,"tht":83000,"thtL":46000,"thtH":100000,"trp":54700,"trpL":51400,"trpH":58000},
{"t":1275,"tht":79500,"thtL":34000,"thtH":100000,"trp":53700,"trpL":50400,"trpH":57000},
{"t":1290,"tht":78500,"thtL":42000,"thtH":100000,"trp":52800,"trpL":49500,"trpH":56100},
{"t":1305,"tht":80500,"thtL":40000,"thtH":100000,"trp":52000,"trpL":48700,"trpH":55300},
{"t":1320,"tht":81000,"thtL":40000,"thtH":100000,"trp":51100,"trpL":47900,"trpH":54300},
{"t":1335,"tht":80000,"thtL":42600,"thtH":100000,"trp":50200,"trpL":47000,"trpH":53400},
{"t":1350,"tht":78500,"thtL":48000,"thtH":100000,"trp":49400,"trpL":46200,"trpH":52600},
{"t":1365,"tht":76500,"thtL":55600,"thtH":100000,"trp":48600,"trpL":45400,"trpH":51800},
{"t":1380,"tht":83000,"thtL":64300,"thtH":100000,"trp":47700,"trpL":44600,"trpH":50800},
{"t":1395,"tht":85000,"thtL":64000,"thtH":100000,"trp":46900,"trpL":43800,"trpH":50000},
{"t":1410,"tht":84000,"thtL":60000,"thtH":100000,"trp":46100,"trpL":43000,"trpH":49200},
{"t":1425,"tht":83000,"thtL":62000,"thtH":100000,"trp":45400,"trpL":42300,"trpH":48500},
{"t":1440,"tht":92000,"thtL":78800,"thtH":100000,"trp":44600,"trpL":41500,"trpH":47700}
],
"H15": [
{"t":0,"tht":100,"thtL":0,"thtH":200,"trp":73000,"trpL":70000,"trpH":76000},
{"t":15,"tht":100,"thtL":0,"thtH":200,"trp":67500,"trpL":66000,"trpH":69000},
{"t":30,"tht":110,"thtL":10,"thtH":210,"trp":66200,"trpL":64700,"trpH":67700},
{"t":45,"tht":120,"thtL":20,"thtH":220,"trp":65800,"trpL":64300,"trpH":67300},
{"t":60,"tht":130,"thtL":30,"thtH":230,"trp":65500,"trpL":64000,"trpH":67000},
{"t":75,"tht":140,"thtL":40,"thtH":240,"trp":65200,"trpL":63700,"trpH":66700},
{"t":90,"tht":150,"thtL":50,"thtH":250,"trp":65000,"trpL":63500,"trpH":66500},
{"t":105,"tht":160,"thtL":60,"thtH":260,"trp":64800,"trpL":63300,"trpH":66300},
{"t":120,"tht":180,"thtL":80,"thtH":280,"trp":64600,"trpL":63100,"trpH":66100},
{"t":135,"tht":190,"thtL":90,"thtH":290,"trp":64500,"trpL":63000,"trpH":66000},
{"t":150,"tht":200,"thtL":100,"thtH":300,"trp":64400,"trpL":62900,"trpH":65900},
{"t":165,"tht":220,"thtL":120,"thtH":320,"trp":64300,"trpL":62800,"trpH":65800},
{"t":180,"tht":240,"thtL":140,"thtH":340,"trp":64200,"trpL":62700,"trpH":65700},
{"t":195,"tht":260,"thtL":160,"thtH":360,"trp":64100,"trpL":62600,"trpH":65600},
{"t":210,"tht":280,"thtL":80,"thtH":480,"trp":64100,"trpL":62600,"trpH":65600},
{"t":225,"tht":300,"thtL":100,"thtH":500,"trp":64000,"trpL":62500,"trpH":65500},
{"t":240,"tht":320,"thtL":120,"thtH":520,"trp":64000,"trpL":62500,"trpH":65500},
{"t":255,"tht":350,"thtL":150,"thtH":550,"trp":64100,"trpL":62600,"trpH":65600},
{"t":270,"tht":380,"thtL":180,"thtH":580,"trp":64000,"trpL":62500,"trpH":65500},
{"t":285,"tht":410,"thtL":210,"thtH":610,"trp":64100,"trpL":62600,"trpH":65600},
{"t":300,"tht":440,"thtL":240,"thtH":640,"trp":64100,"trpL":62600,"trpH":65600},
{"t":315,"tht":470,"thtL":270,"thtH":670,"trp":64200,"trpL":62700,"trpH":65700},
{"t":330,"tht":500,"thtL":300,"thtH":700,"trp":64200,"trpL":62700,"trpH":65700},
{"t":345,"tht":540,"thtL":340,"thtH":740,"trp":64300,"trpL":62800,"trpH":65800},
{"t":360,"tht":580,"thtL":380,"thtH":780,"trp":64300,"trpL":62800,"trpH":65800},
{"t":375,"tht":620,"thtL":420,"thtH":820,"trp":64400,"trpL":62900,"trpH":65900},
{"t":390,"tht":670,"thtL":470,"thtH":870,"trp":64400,"trpL":62900,"trpH":65900},
{"t":405,"tht":720,"thtL":420,"thtH":1020,"trp":64500,"trpL":63000,"trpH":66000},
{"t":420,"tht":780,"thtL":480,"thtH":1080,"trp":64500,"trpL":63000,"trpH":66000},
{"t":435,"tht":840,"thtL":540,"thtH":1140,"trp":64600,"trpL":63100,"trpH":66100},
{"t":450,"tht":900,"thtL":600,"thtH":1200,"trp":64700,"trpL":63200,"trpH":66200},
{"t":465,"tht":970,"thtL":620,"thtH":1320,"trp":64800,"trpL":63300,"trpH":66300},
{"t":480,"tht":1050,"thtL":650,"thtH":1450,"trp":64900,"trpL":63400,"trpH":66400},
{"t":495,"tht":1130,"thtL":700,"thtH":1560,"trp":65000,"trpL":63500,"trpH":66500},
{"t":510,"tht":1220,"thtL":750,"thtH":1690,"trp":65100,"trpL":63600,"trpH":66600},
{"t":525,"tht":1320,"thtL":800,"thtH":1840,"trp":65300,"trpL":63300,"trpH":67300},
{"t":540,"tht":1450,"thtL":900,"thtH":2000,"trp":66800,"trpL":63300,"trpH":70300},
{"t":555,"tht":1600,"thtL":1000,"thtH":2200,"trp":65800,"trpL":63300,"trpH":68300},
{"t":570,"tht":1800,"thtL":1100,"thtH":2500,"trp":66400,"trpL":63600,"trpH":69200},
{"t":585,"tht":2000,"thtL":1250,"thtH":2750,"trp":66700,"trpL":63700,"trpH":69700},
{"t":600,"tht":2200,"thtL":1400,"thtH":3000,"trp":67200,"trpL":64200,"trpH":70200},
{"t":615,"tht":2400,"thtL":1550,"thtH":3250,"trp":67000,"trpL":63800,"trpH":70200},
{"t":630,"tht":2600,"thtL":1700,"thtH":3500,"trp":67500,"trpL":64000,"trpH":71000},
{"t":645,"tht":2900,"thtL":1900,"thtH":3900,"trp":68000,"trpL":64500,"trpH":71500},
{"t":660,"tht":3200,"thtL":2100,"thtH":4300,"trp":68600,"trpL":64800,"trpH":72400},
{"t":675,"tht":3500,"thtL":2300,"thtH":4700,"trp":68900,"trpL":64900,"trpH":72900},
{"t":690,"tht":3900,"thtL":2600,"thtH":5200,"trp":69300,"trpL":65100,"trpH":73500},
{"t":705,"tht":4300,"thtL":2900,"thtH":5700,"trp":69900,"trpL":65400,"trpH":74400},
{"t":720,"tht":4700,"thtL":3200,"thtH":6200,"trp":70500,"trpL":65000,"trpH":76000},
{"t":735,"tht":5100,"thtL":3500,"thtH":6700,"trp":71200,"trpL":66200,"trpH":76200},
{"t":750,"tht":5500,"thtL":3800,"thtH":7200,"trp":71700,"trpL":66500,"trpH":76900},
{"t":765,"tht":5900,"thtL":4100,"thtH":7700,"trp":72300,"trpL":66800,"trpH":77800},
{"t":780,"tht":6300,"thtL":4400,"thtH":8200,"trp":72800,"trpL":66800,"trpH":78800},
{"t":795,"tht":6800,"thtL":5000,"thtH":8600,"trp":73400,"trpL":67400,"trpH":79400},
{"t":810,"tht":7200,"thtL":5300,"thtH":9100,"trp":73900,"trpL":67400,"trpH":80400},
{"t":825,"tht":7600,"thtL":5600,"thtH":9600,"trp":74400,"trpL":67900,"trpH":80900},
{"t":840,"tht":8000,"thtL":6000,"thtH":10000,"trp":74800,"trpL":68000,"trpH":81600},
{"t":855,"tht":8500,"thtL":6400,"thtH":10600,"trp":75200,"trpL":68200,"trpH":82200},
{"t":870,"tht":9000,"thtL":6800,"thtH":11200,"trp":75500,"trpL":68300,"trpH":82700},
{"t":885,"tht":9600,"thtL":7300,"thtH":11900,"trp":75800,"trpL":68300,"trpH":83300},
{"t":900,"tht":10200,"thtL":7800,"thtH":12600,"trp":76100,"trpL":68600,"trpH":83600},
{"t":915,"tht":10700,"thtL":8300,"thtH":13100,"trp":76300,"trpL":68300,"trpH":84300},
{"t":930,"tht":11200,"thtL":8800,"thtH":13600,"trp":76500,"trpL":68300,"trpH":84700},
{"t":945,"tht":11700,"thtL":9300,"thtH":14100,"trp":76600,"trpL":68400,"trpH":84800},
{"t":960,"tht":12400,"thtL":9800,"thtH":15000,"trp":76700,"trpL":68400,"trpH":85000},
{"t":975,"tht":13500,"thtL":10300,"thtH":18000,"trp":76800,"trpL":68400,"trpH":85200},
{"t":990,"tht":15000,"thtL":10800,"thtH":22500,"trp":76900,"trpL":68400,"trpH":85400},
{"t":1005,"tht":16500,"thtL":11800,"thtH":21500,"trp":77000,"trpL":68400,"trpH":85600},
{"t":1020,"tht":17500,"thtL":12500,"thtH":23000,"trp":77100,"trpL":68400,"trpH":85800},
{"t":1035,"tht":18500,"thtL":13200,"thtH":25000,"trp":76900,"trpL":68200,"trpH":85600},
{"t":1050,"tht":19500,"thtL":14000,"thtH":27000,"trp":76700,"trpL":68000,"trpH":85400},
{"t":1065,"tht":20500,"thtL":15000,"thtH":30000,"trp":76900,"trpL":68200,"trpH":85600},
{"t":1080,"tht":22000,"thtL":16000,"thtH":31000,"trp":77200,"trpL":68400,"trpH":86000},
{"t":1095,"tht":24500,"thtL":17000,"thtH":33000,"trp":77000,"trpL":68200,"trpH":85800},
{"t":1110,"tht":28500,"thtL":17500,"thtH":40000,"trp":77300,"trpL":68500,"trpH":86100},
{"t":1125,"tht":33500,"thtL":18500,"thtH":44000,"trp":77500,"trpL":68700,"trpH":86300},
{"t":1140,"tht":39500,"thtL":19500,"thtH":52000,"trp":77300,"trpL":68500,"trpH":86100},
{"t":1155,"tht":46000,"thtL":20000,"thtH":61000,"trp":77600,"trpL":68800,"trpH":86400},
{"t":1170,"tht":51500,"thtL":21000,"thtH":66000,"trp":77800,"trpL":69000,"trpH":86600},
{"t":1185,"tht":55500,"thtL":23000,"thtH":80000,"trp":77600,"trpL":68800,"trpH":86400},
{"t":1200,"tht":60000,"thtL":25000,"thtH":93000,"trp":77400,"trpL":68600,"trpH":86200},
{"t":1215,"tht":64500,"thtL":28500,"thtH":100000,"trp":77600,"trpL":68800,"trpH":86400},
{"t":1230,"tht":67500,"thtL":32000,"thtH":100000,"trp":77300,"trpL":68500,"trpH":86100},
{"t":1245,"tht":69500,"thtL":36000,"thtH":100000,"trp":77000,"trpL":68200,"trpH":85800},
{"t":1260,"tht":71000,"thtL":41000,"thtH":100000,"trp":77200,"trpL":68400,"trpH":86000},
{"t":1275,"tht":72000,"thtL":45500,"thtH":100000,"trp":76800,"trpL":68000,"trpH":85600},
{"t":1290,"tht":73500,"thtL":49500,"thtH":100000,"trp":76400,"trpL":67600,"trpH":85200},
{"t":1305,"tht":75000,"thtL":53000,"thtH":100000,"trp":76000,"trpL":67300,"trpH":84700},
{"t":1320,"tht":76500,"thtL":56000,"thtH":100000,"trp":75800,"trpL":67200,"trpH":84400},
{"t":1335,"tht":78000,"thtL":59000,"thtH":100000,"trp":75500,"trpL":67000,"trpH":84000},
{"t":1350,"tht":80000,"thtL":61500,"thtH":100000,"trp":75300,"trpL":67000,"trpH":83600},
{"t":1365,"tht":81500,"thtL":64500,"thtH":100000,"trp":75600,"trpL":67300,"trpH":83900},
{"t":1380,"tht":83000,"thtL":68000,"thtH":100000,"trp":75400,"trpL":67200,"trpH":83600},
{"t":1395,"tht":85500,"thtL":71000,"thtH":100000,"trp":75200,"trpL":67100,"trpH":83300},
{"t":1410,"tht":88000,"thtL":72500,"thtH":100000,"trp":75300,"trpL":67200,"trpH":83400},
{"t":1425,"tht":90500,"thtL":74000,"thtH":100000,"trp":75100,"trpL":67100,"trpH":83100},
{"t":1440,"tht":92500,"thtL":76000,"thtH":100000,"trp":75000,"trpL":67000,"trpH":83000}
],
"H16": [
{"t":0,"tht":100,"thtL":0,"thtH":200,"trp":72500,"trpL":69500,"trpH":75500},
{"t":15,"tht":100,"thtL":0,"thtH":200,"trp":67300,"trpL":65500,"trpH":69100},
{"t":30,"tht":100,"thtL":0,"thtH":200,"trp":66700,"trpL":65000,"trpH":68400},
{"t":45,"tht":110,"thtL":10,"thtH":210,"trp":66500,"trpL":64900,"trpH":68100},
{"t":60,"tht":110,"thtL":10,"thtH":210,"trp":66400,"trpL":64800,"trpH":68000},
{"t":75,"tht":120,"thtL":20,"thtH":220,"trp":66300,"trpL":64700,"trpH":67900},
{"t":90,"tht":120,"thtL":20,"thtH":220,"trp":66200,"trpL":64600,"trpH":67800},
{"t":105,"tht":130,"thtL":30,"thtH":230,"trp":66000,"trpL":64400,"trpH":67600},
{"t":120,"tht":130,"thtL":30,"thtH":230,"trp":65900,"trpL":64300,"trpH":67500},
{"t":135,"tht":140,"thtL":40,"thtH":240,"trp":65700,"trpL":64100,"trpH":67300},
{"t":150,"tht":140,"thtL":40,"thtH":240,"trp":65600,"trpL":64000,"trpH":67200},
{"t":165,"tht":150,"thtL":50,"thtH":250,"trp":65500,"trpL":63900,"trpH":67100},
{"t":180,"tht":150,"thtL":50,"thtH":250,"trp":65400,"trpL":63800,"trpH":67000},
{"t":195,"tht":160,"thtL":60,"thtH":260,"trp":65200,"trpL":63600,"trpH":66800},
{"t":210,"tht":160,"thtL":60,"thtH":260,"trp":65100,"trpL":63500,"trpH":66700},
{"t":225,"tht":170,"thtL":70,"thtH":270,"trp":65000,"trpL":63400,"trpH":66600},
{"t":240,"tht":180,"thtL":80,"thtH":280,"trp":64900,"trpL":63300,"trpH":66500},
{"t":255,"tht":180,"thtL":80,"thtH":280,"trp":64800,"trpL":63200,"trpH":66400},
{"t":270,"tht":190,"thtL":90,"thtH":290,"trp":64800,"trpL":63200,"trpH":66400},
{"t":285,"tht":200,"thtL":100,"thtH":300,"trp":64700,"trpL":63100,"trpH":66300},
{"t":300,"tht":210,"thtL":110,"thtH":310,"trp":64600,"trpL":63000,"trpH":66200},
{"t":315,"tht":210,"thtL":110,"thtH":310,"trp":64600,"trpL":63000,"trpH":66200},
{"t":330,"tht":220,"thtL":120,"thtH":320,"trp":64500,"trpL":62900,"trpH":66100},
{"t":345,"tht":230,"thtL":130,"thtH":330,"trp":64400,"trpL":62800,"trpH":66000},
{"t":360,"tht":240,"thtL":140,"thtH":340,"trp":64400,"trpL":62800,"trpH":66000},
{"t":375,"tht":250,"thtL":150,"thtH":350,"trp":64300,"trpL":62700,"trpH":65900},
{"t":390,"tht":260,"thtL":160,"thtH":360,"trp":64300,"trpL":62700,"trpH":65900},
{"t":405,"tht":270,"thtL":170,"thtH":370,"trp":64200,"trpL":62600,"trpH":65800},
{"t":420,"tht":280,"thtL":180,"thtH":380,"trp":64200,"trpL":62600,"trpH":65800},
{"t":435,"tht":290,"thtL":190,"thtH":390,"trp":64100,"trpL":62500,"trpH":65700},
{"t":450,"tht":300,"thtL":200,"thtH":400,"trp":64100,"trpL":62500,"trpH":65700},
{"t":465,"tht":310,"thtL":210,"thtH":410,"trp":64100,"trpL":62500,"trpH":65700},
{"t":480,"tht":320,"thtL":220,"thtH":420,"trp":64100,"trpL":62500,"trpH":65700},
{"t":495,"tht":330,"thtL":230,"thtH":430,"trp":64200,"trpL":62600,"trpH":65800},
{"t":510,"tht":340,"thtL":240,"thtH":440,"trp":64200,"trpL":62600,"trpH":65800},
{"t":525,"tht":350,"thtL":250,"thtH":450,"trp":64300,"trpL":62700,"trpH":65900},
{"t":540,"tht":360,"thtL":260,"thtH":460,"trp":64400,"trpL":62800,"trpH":66000},
{"t":555,"tht":370,"thtL":270,"thtH":470,"trp":64500,"trpL":62900,"trpH":66100},
{"t":570,"tht":380,"thtL":280,"thtH":480,"trp":64600,"trpL":63000,"trpH":66200},
{"t":585,"tht":390,"thtL":290,"thtH":490,"trp":64700,"trpL":63100,"trpH":66300},
{"t":600,"tht":400,"thtL":300,"thtH":500,"trp":64900,"trpL":63300,"trpH":66500},
{"t":615,"tht":450,"thtL":300,"thtH":600,"trp":65000,"trpL":63400,"trpH":66600},
{"t":630,"tht":500,"thtL":330,"thtH":670,"trp":65200,"trpL":63600,"trpH":66800},
{"t":645,"tht":550,"thtL":350,"thtH":750,"trp":65500,"trpL":63900,"trpH":67100},
{"t":660,"tht":650,"thtL":400,"thtH":900,"trp":65700,"trpL":64100,"trpH":67300},
{"t":675,"tht":750,"thtL":450,"thtH":1050,"trp":65900,"trpL":64300,"trpH":67500},
{"t":690,"tht":900,"thtL":550,"thtH":1250,"trp":66100,"trpL":64500,"trpH":67700},
{"t":705,"tht":1100,"thtL":700,"thtH":1500,"trp":66200,"trpL":64600,"trpH":67800},
{"t":720,"tht":1400,"thtL":900,"thtH":2200,"trp":66300,"trpL":64700,"trpH":67900},
{"t":735,"tht":1900,"thtL":1200,"thtH":2800,"trp":66400,"trpL":64800,"trpH":68000},
{"t":750,"tht":2500,"thtL":1500,"thtH":3700,"trp":66500,"trpL":64900,"trpH":68100},
{"t":765,"tht":3300,"thtL":2000,"thtH":5000,"trp":66500,"trpL":64900,"trpH":68100},
{"t":780,"tht":4300,"thtL":2600,"thtH":6500,"trp":66600,"trpL":65000,"trpH":68200},
{"t":795,"tht":5600,"thtL":3300,"thtH":8500,"trp":66700,"trpL":65100,"trpH":68300},
{"t":810,"tht":7200,"thtL":4000,"thtH":11000,"trp":66800,"trpL":65000,"trpH":68600},
{"t":825,"tht":9200,"thtL":5000,"thtH":14000,"trp":66900,"trpL":64900,"trpH":68900},
{"t":840,"tht":11500,"thtL":6500,"thtH":17500,"trp":67000,"trpL":64800,"trpH":69200},
{"t":855,"tht":14000,"thtL":8000,"thtH":21500,"trp":67100,"trpL":64700,"trpH":69500},
{"t":870,"tht":17000,"thtL":10000,"thtH":26000,"trp":67200,"trpL":64600,"trpH":69800},
{"t":885,"tht":21000,"thtL":12500,"thtH":31000,"trp":67400,"trpL":64500,"trpH":70300},
{"t":900,"tht":25500,"thtL":15000,"thtH":37000,"trp":67600,"trpL":64400,"trpH":70800},
{"t":915,"tht":30500,"thtL":18000,"thtH":45000,"trp":67800,"trpL":64600,"trpH":71000},
{"t":930,"tht":36000,"thtL":21000,"thtH":55000,"trp":67900,"trpL":64600,"trpH":71200},
{"t":945,"tht":42000,"thtL":25000,"thtH":62000,"trp":68000,"trpL":64500,"trpH":71500},
{"t":960,"tht":48500,"thtL":30000,"thtH":70000,"trp":67800,"trpL":64600,"trpH":71000},
{"t":975,"tht":55000,"thtL":35500,"thtH":76000,"trp":67300,"trpL":64000,"trpH":70600},
{"t":990,"tht":61500,"thtL":41000,"thtH":88000,"trp":66700,"trpL":63400,"trpH":70000},
{"t":1005,"tht":68000,"thtL":48000,"thtH":100000,"trp":66100,"trpL":62600,"trpH":69600},
{"t":1020,"tht":74000,"thtL":57000,"thtH":100000,"trp":65600,"trpL":62000,"trpH":69200},
{"t":1035,"tht":79500,"thtL":66000,"thtH":100000,"trp":65100,"trpL":61500,"trpH":68700},
{"t":1050,"tht":84500,"thtL":74000,"thtH":100000,"trp":64700,"trpL":61000,"trpH":68400},
{"t":1065,"tht":89500,"thtL":80000,"thtH":100000,"trp":64300,"trpL":60500,"trpH":68100},
{"t":1080,"tht":95000,"thtL":88000,"thtH":100000,"trp":63700,"trpL":59800,"trpH":67600},
{"t":1095,"tht":100000,"thtL":100000,"thtH":100000,"trp":63000,"trpL":59000,"trpH":67000},
{"t":1110,"tht":100000,"thtL":100000,"thtH":100000,"trp":62200,"trpL":58200,"trpH":66200},
{"t":1125,"tht":100000,"thtL":100000,"thtH":100000,"trp":61000,"trpL":57000,"trpH":65000},
{"t":1140,"tht":100000,"thtL":100000,"thtH":100000,"trp":59600,"trpL":55600,"trpH":63600},
{"t":1155,"tht":100000,"thtL":100000,"thtH":100000,"trp":58200,"trpL":54200,"trpH":62200},
{"t":1170,"tht":100000,"thtL":100000,"thtH":100000,"trp":56800,"trpL":52800,"trpH":60800},
{"t":1185,"tht":100000,"thtL":100000,"thtH":100000,"trp":55000,"trpL":51000,"trpH":59000},
{"t":1200,"tht":100000,"thtL":100000,"thtH":100000,"trp":53000,"trpL":48500,"trpH":57500},
{"t":1215,"tht":100000,"thtL":100000,"thtH":100000,"trp":50500,"trpL":44500,"trpH":56500},
{"t":1230,"tht":100000,"thtL":100000,"thtH":100000,"trp":44500,"trpL":37500,"trpH":51500},
{"t":1245,"tht":100000,"thtL":100000,"thtH":100000,"trp":47500,"trpL":39500,"trpH":55500},
{"t":1260,"tht":100000,"thtL":100000,"thtH":100000,"trp":42000,"trpL":37000,"trpH":47000},
{"t":1275,"tht":100000,"thtL":100000,"thtH":100000,"trp":40500,"trpL":37500,"trpH":43500},
{"t":1290,"tht":100000,"thtL":100000,"thtH":100000,"trp":39000,"trpL":36000,"trpH":42000},
{"t":1305,"tht":100000,"thtL":100000,"thtH":100000,"trp":37000,"trpL":34000,"trpH":40000},
{"t":1320,"tht":100000,"thtL":100000,"thtH":100000,"trp":36000,"trpL":33000,"trpH":39000},
{"t":1335,"tht":100000,"thtL":100000,"thtH":100000,"trp":33000,"trpL":30000,"trpH":36000},
{"t":1350,"tht":100000,"thtL":100000,"thtH":100000,"trp":32000,"trpL":29000,"trpH":35000},
{"t":1365,"tht":100000,"thtL":100000,"thtH":100000,"trp":31500,"trpL":29000,"trpH":34000},
{"t":1380,"tht":100000,"thtL":100000,"thtH":100000,"trp":30500,"trpL":28000,"trpH":33000},
{"t":1395,"tht":100000,"thtL":100000,"thtH":100000,"trp":29500,"trpL":27000,"trpH":32000},
{"t":1410,"tht":100000,"thtL":100000,"thtH":100000,"trp":28500,"trpL":26000,"trpH":31000},
{"t":1425,"tht":100000,"thtL":100000,"thtH":100000,"trp":27800,"trpL":25500,"trpH":30100},
{"t":1440,"tht":100000,"thtL":100000,"thtH":100000,"trp":27000,"trpL":25000,"trpH":29000}
]
},
"spacing": 40,
"resolve": {"scale": {"stroke": "independent"}, "legend": {"stroke": "independent"}},
"vconcat": [
{"hconcat": [
{"width":430,"height":320,"title":"H10 (Water)","data":{"name":"H10"},"layer":[{"layer":[
{"mark":{"type":"rule","color":"black","strokeWidth":1.5},"encoding":{"x":{"field":"t","type":"quantitative","title":"Time (min)","scale":{"domain":[0,1440],"nice":false,"zero":false},"axis":{"values":[0,200,400,600,800,1000,1200,1400]}},"y":{"field":"thtL","type":"quantitative","title":"Fluorescence Intensity","scale":{"domain":[-500,103500],"nice":false,"zero":false},"axis":{"values":[0,20000,40000,60000,80000,100000]}},"y2":{"field":"thtH"}}},
{"mark":{"type":"tick","orient":"horizontal","color":"black","size":8,"thickness":1.5},"encoding":{"x":{"field":"t","type":"quantitative","title":"Time (min)"},"y":{"field":"thtL","type":"quantitative","title":"Fluorescence Intensity"}}},
{"mark":{"type":"tick","orient":"horizontal","color":"black","size":8,"thickness":1.5},"encoding":{"x":{"field":"t","type":"quantitative","title":"Time (min)"},"y":{"field":"thtH","type":"quantitative","title":"Fluorescence Intensity"}}},
{"mark":{"type":"rule","color":"#808080","strokeWidth":1.5},"encoding":{"x":{"field":"t","type":"quantitative","title":"Time (min)"},"y":{"field":"trpL","type":"quantitative","title":"Fluorescence Intensity"},"y2":{"field":"trpH"}}},
{"mark":{"type":"tick","orient":"horizontal","color":"#808080","size":8,"thickness":1.5},"encoding":{"x":{"field":"t","type":"quantitative","title":"Time (min)"},"y":{"field":"trpL","type":"quantitative","title":"Fluorescence Intensity"}}},
{"mark":{"type":"tick","orient":"horizontal","color":"#808080","size":8,"thickness":1.5},"encoding":{"x":{"field":"t","type":"quantitative","title":"Time (min)"},"y":{"field":"trpH","type":"quantitative","title":"Fluorescence Intensity"}}},
{"mark":{"type":"line","strokeWidth":2},"encoding":{"x":{"field":"t","type":"quantitative","title":"Time (min)"},"y":{"field":"trp","type":"quantitative","title":"Fluorescence Intensity"},"stroke":{"datum":"Trp","type":"nominal"}}},
{"mark":{"type":"line","strokeWidth":2},"encoding":{"x":{"field":"t","type":"quantitative","title":"Time (min)"},"y":{"field":"tht","type":"quantitative","title":"Fluorescence Intensity"},"stroke":{"datum":"ThT","type":"nominal","scale":{"domain":["ThT","Trp"],"range":["black","#808080"]},"legend":{"title":null}}}},
{"mark":{"type":"rule","color":"black","strokeDash":[2,5],"strokeWidth":2.2},"encoding":{"y":{"datum":3800,"type":"quantitative"}}}
]},
{"mark":{"type":"point","opacity":0},"encoding":{"x":{"field":"t","type":"quantitative","axis":{"orient":"top","labels":false,"title":null,"values":[0,200,400,600,800,1000,1200,1400]}},"y":{"field":"trp","type":"quantitative","axis":{"orient":"right","labels":false,"title":null,"values":[0,20000,40000,60000,80000,100000]}}}}
],"resolve":{"axis":{"x":"independent","y":"independent"}}},
{"width":430,"height":320,"title":"H12 (Water)","data":{"name":"H12"},"layer":[{"layer":[
{"mark":{"type":"rule","color":"black","strokeWidth":1.5},"encoding":{"x":{"field":"t","type":"quantitative","title":"Time (min)","scale":{"domain":[0,1440],"nice":false,"zero":false},"axis":{"values":[0,200,400,600,800,1000,1200,1400]}},"y":{"field":"thtL","type":"quantitative","title":null,"scale":{"domain":[-500,103500],"nice":false,"zero":false},"axis":{"values":[0,20000,40000,60000,80000,100000]}},"y2":{"field":"thtH"}}},
{"mark":{"type":"tick","orient":"horizontal","color":"black","size":8,"thickness":1.5},"encoding":{"x":{"field":"t","type":"quantitative","title":"Time (min)"},"y":{"field":"thtL","type":"quantitative","title":null}}},
{"mark":{"type":"tick","orient":"horizontal","color":"black","size":8,"thickness":1.5},"encoding":{"x":{"field":"t","type":"quantitative","title":"Time (min)"},"y":{"field":"thtH","type":"quantitative","title":null}}},
{"mark":{"type":"rule","color":"#808080","strokeWidth":1.5},"encoding":{"x":{"field":"t","type":"quantitative","title":"Time (min)"},"y":{"field":"trpL","type":"quantitative","title":null},"y2":{"field":"trpH"}}},
{"mark":{"type":"tick","orient":"horizontal","color":"#808080","size":8,"thickness":1.5},"encoding":{"x":{"field":"t","type":"quantitative","title":"Time (min)"},"y":{"field":"trpL","type":"quantitative","title":null}}},
{"mark":{"type":"tick","orient":"horizontal","color":"#808080","size":8,"thickness":1.5},"encoding":{"x":{"field":"t","type":"quantitative","title":"Time (min)"},"y":{"field":"trpH","type":"quantitative","title":null}}},
{"mark":{"type":"line","strokeWidth":2},"encoding":{"x":{"field":"t","type":"quantitative","title":"Time (min)"},"y":{"field":"trp","type":"quantitative","title":null},"stroke":{"datum":"Trp","type":"nominal"}}},
{"mark":{"type":"line","strokeWidth":2},"encoding":{"x":{"field":"t","type":"quantitative","title":"Time (min)"},"y":{"field":"tht","type":"quantitative","title":null},"stroke":{"datum":"ThT","type":"nominal","scale":{"domain":["ThT","Trp"],"range":["black","#808080"]},"legend":{"title":null}}}},
{"mark":{"type":"rule","color":"black","strokeDash":[2,5],"strokeWidth":2.2},"encoding":{"y":{"datum":3800,"type":"quantitative"}}}
]},
{"mark":{"type":"point","opacity":0},"encoding":{"x":{"field":"t","type":"quantitative","axis":{"orient":"top","labels":false,"title":null,"values":[0,200,400,600,800,1000,1200,1400]}},"y":{"field":"trp","type":"quantitative","axis":{"orient":"right","labels":false,"title":null,"values":[0,20000,40000,60000,80000,100000]}}}}
],"resolve":{"axis":{"x":"independent","y":"independent"}}}
], "spacing": 33, "resolve": {"scale": {"stroke": "independent"}, "legend": {"stroke": "independent"}}},
{"vconcat": [
{"hconcat": [
{"width":430,"height":320,"title":"H13 (Water)","data":{"name":"H13"},"layer":[{"layer":[
{"mark":{"type":"rule","color":"black","strokeWidth":1.5},"encoding":{"x":{"field":"t","type":"quantitative","title":"Time (min)","scale":{"domain":[0,1440],"nice":false,"zero":false},"axis":{"values":[0,200,400,600,800,1000,1200,1400]}},"y":{"field":"thtL","type":"quantitative","title":"Fluorescence Intensity","scale":{"domain":[-500,103500],"nice":false,"zero":false},"axis":{"values":[0,20000,40000,60000,80000,100000]}},"y2":{"field":"thtH"}}},
{"mark":{"type":"tick","orient":"horizontal","color":"black","size":8,"thickness":1.5},"encoding":{"x":{"field":"t","type":"quantitative","title":"Time (min)"},"y":{"field":"thtL","type":"quantitative","title":"Fluorescence Intensity"}}},
{"mark":{"type":"tick","orient":"horizontal","color":"black","size":8,"thickness":1.5},"encoding":{"x":{"field":"t","type":"quantitative","title":"Time (min)"},"y":{"field":"thtH","type":"quantitative","title":"Fluorescence Intensity"}}},
{"mark":{"type":"rule","color":"#808080","strokeWidth":1.5},"encoding":{"x":{"field":"t","type":"quantitative","title":"Time (min)"},"y":{"field":"trpL","type":"quantitative","title":"Fluorescence Intensity"},"y2":{"field":"trpH"}}},
{"mark":{"type":"tick","orient":"horizontal","color":"#808080","size":8,"thickness":1.5},"encoding":{"x":{"field":"t","type":"quantitative","title":"Time (min)"},"y":{"field":"trpL","type":"quantitative","title":"Fluorescence Intensity"}}},
{"mark":{"type":"tick","orient":"horizontal","color":"#808080","size":8,"thickness":1.5},"encoding":{"x":{"field":"t","type":"quantitative","title":"Time (min)"},"y":{"field":"trpH","type":"quantitative","title":"Fluorescence Intensity"}}},
{"mark":{"type":"line","strokeWidth":2},"encoding":{"x":{"field":"t","type":"quantitative","title":"Time (min)"},"y":{"field":"trp","type":"quantitative","title":"Fluorescence Intensity"},"stroke":{"datum":"Trp","type":"nominal"}}},
{"mark":{"type":"line","strokeWidth":2},"encoding":{"x":{"field":"t","type":"quantitative","title":"Time (min)"},"y":{"field":"tht","type":"quantitative","title":"Fluorescence Intensity"},"stroke":{"datum":"ThT","type":"nominal","scale":{"domain":["ThT","Trp"],"range":["black","#808080"]},"legend":{"title":null}}}},
{"mark":{"type":"rule","color":"black","strokeDash":[2,5],"strokeWidth":2.2},"encoding":{"y":{"datum":3800,"type":"quantitative"}}}
]},
{"mark":{"type":"point","opacity":0},"encoding":{"x":{"field":"t","type":"quantitative","axis":{"orient":"top","labels":false,"title":null,"values":[0,200,400,600,800,1000,1200,1400]}},"y":{"field":"trp","type":"quantitative","axis":{"orient":"right","labels":false,"title":null,"values":[0,20000,40000,60000,80000,100000]}}}}
],"resolve":{"axis":{"x":"independent","y":"independent"}}},
{"width":430,"height":320,"title":"H14 (Water)","data":{"name":"H14"},"layer":[{"layer":[
{"mark":{"type":"rule","color":"black","strokeWidth":1.5},"encoding":{"x":{"field":"t","type":"quantitative","title":"Time (min)","scale":{"domain":[0,1440],"nice":false,"zero":false},"axis":{"values":[0,200,400,600,800,1000,1200,1400]}},"y":{"field":"thtL","type":"quantitative","title":null,"scale":{"domain":[-500,103500],"nice":false,"zero":false},"axis":{"values":[0,20000,40000,60000,80000,100000]}},"y2":{"field":"thtH"}}},
{"mark":{"type":"tick","orient":"horizontal","color":"black","size":8,"thickness":1.5},"encoding":{"x":{"field":"t","type":"quantitative","title":"Time (min)"},"y":{"field":"thtL","type":"quantitative","title":null}}},
{"mark":{"type":"tick","orient":"horizontal","color":"black","size":8,"thickness":1.5},"encoding":{"x":{"field":"t","type":"quantitative","title":"Time (min)"},"y":{"field":"thtH","type":"quantitative","title":null}}},
{"mark":{"type":"rule","color":"#808080","strokeWidth":1.5},"encoding":{"x":{"field":"t","type":"quantitative","title":"Time (min)"},"y":{"field":"trpL","type":"quantitative","title":null},"y2":{"field":"trpH"}}},
{"mark":{"type":"tick","orient":"horizontal","color":"#808080","size":8,"thickness":1.5},"encoding":{"x":{"field":"t","type":"quantitative","title":"Time (min)"},"y":{"field":"trpL","type":"quantitative","title":null}}},
{"mark":{"type":"tick","orient":"horizontal","color":"#808080","size":8,"thickness":1.5},"encoding":{"x":{"field":"t","type":"quantitative","title":"Time (min)"},"y":{"field":"trpH","type":"quantitative","title":null}}},
{"mark":{"type":"line","strokeWidth":2},"encoding":{"x":{"field":"t","type":"quantitative","title":"Time (min)"},"y":{"field":"trp","type":"quantitative","title":null},"stroke":{"datum":"Trp","type":"nominal"}}},
{"mark":{"type":"line","strokeWidth":2},"encoding":{"x":{"field":"t","type":"quantitative","title":"Time (min)"},"y":{"field":"tht","type":"quantitative","title":null},"stroke":{"datum":"ThT","type":"nominal","scale":{"domain":["ThT","Trp"],"range":["black","#808080"]},"legend":{"title":null}}}},
{"mark":{"type":"rule","color":"black","strokeDash":[2,5],"strokeWidth":2.2},"encoding":{"y":{"datum":3800,"type":"quantitative"}}}
]},
{"mark":{"type":"point","opacity":0},"encoding":{"x":{"field":"t","type":"quantitative","axis":{"orient":"top","labels":false,"title":null,"values":[0,200,400,600,800,1000,1200,1400]}},"y":{"field":"trp","type":"quantitative","axis":{"orient":"right","labels":false,"title":null,"values":[0,20000,40000,60000,80000,100000]}}}}
],"resolve":{"axis":{"x":"independent","y":"independent"}}}
], "spacing": 33, "resolve": {"scale": {"stroke": "independent"}, "legend": {"stroke": "independent"}}},
{"hconcat": [
{"width":430,"height":320,"title":"H15 (Water)","data":{"name":"H15"},"layer":[{"layer":[
{"mark":{"type":"rule","color":"black","strokeWidth":1.5},"encoding":{"x":{"field":"t","type":"quantitative","title":"Time (min)","scale":{"domain":[0,1440],"nice":false,"zero":false},"axis":{"values":[0,200,400,600,800,1000,1200,1400]}},"y":{"field":"thtL","type":"quantitative","title":"Fluorescence Intensity","scale":{"domain":[-500,103500],"nice":false,"zero":false},"axis":{"values":[0,20000,40000,60000,80000,100000]}},"y2":{"field":"thtH"}}},
{"mark":{"type":"tick","orient":"horizontal","color":"black","size":8,"thickness":1.5},"encoding":{"x":{"field":"t","type":"quantitative","title":"Time (min)"},"y":{"field":"thtL","type":"quantitative","title":"Fluorescence Intensity"}}},
{"mark":{"type":"tick","orient":"horizontal","color":"black","size":8,"thickness":1.5},"encoding":{"x":{"field":"t","type":"quantitative","title":"Time (min)"},"y":{"field":"thtH","type":"quantitative","title":"Fluorescence Intensity"}}},
{"mark":{"type":"rule","color":"#808080","strokeWidth":1.5},"encoding":{"x":{"field":"t","type":"quantitative","title":"Time (min)"},"y":{"field":"trpL","type":"quantitative","title":"Fluorescence Intensity"},"y2":{"field":"trpH"}}},
{"mark":{"type":"tick","orient":"horizontal","color":"#808080","size":8,"thickness":1.5},"encoding":{"x":{"field":"t","type":"quantitative","title":"Time (min)"},"y":{"field":"trpL","type":"quantitative","title":"Fluorescence Intensity"}}},
{"mark":{"type":"tick","orient":"horizontal","color":"#808080","size":8,"thickness":1.5},"encoding":{"x":{"field":"t","type":"quantitative","title":"Time (min)"},"y":{"field":"trpH","type":"quantitative","title":"Fluorescence Intensity"}}},
{"mark":{"type":"line","strokeWidth":2},"encoding":{"x":{"field":"t","type":"quantitative","title":"Time (min)"},"y":{"field":"trp","type":"quantitative","title":"Fluorescence Intensity"},"stroke":{"datum":"Trp","type":"nominal"}}},
{"mark":{"type":"line","strokeWidth":2},"encoding":{"x":{"field":"t","type":"quantitative","title":"Time (min)"},"y":{"field":"tht","type":"quantitative","title":"Fluorescence Intensity"},"stroke":{"datum":"ThT","type":"nominal","scale":{"domain":["ThT","Trp"],"range":["black","#808080"]},"legend":{"title":null}}}},
{"mark":{"type":"rule","color":"black","strokeDash":[2,5],"strokeWidth":2.2},"encoding":{"y":{"datum":3800,"type":"quantitative"}}}
]},
{"mark":{"type":"point","opacity":0},"encoding":{"x":{"field":"t","type":"quantitative","axis":{"orient":"top","labels":false,"title":null,"values":[0,200,400,600,800,1000,1200,1400]}},"y":{"field":"trp","type":"quantitative","axis":{"orient":"right","labels":false,"title":null,"values":[0,20000,40000,60000,80000,100000]}}}}
],"resolve":{"axis":{"x":"independent","y":"independent"}}},
{"width":430,"height":320,"title":"H16 (Water)","data":{"name":"H16"},"layer":[{"layer":[
{"mark":{"type":"rule","color":"black","strokeWidth":1.5},"encoding":{"x":{"field":"t","type":"quantitative","title":"Time (min)","scale":{"domain":[0,1440],"nice":false,"zero":false},"axis":{"values":[0,200,400,600,800,1000,1200,1400]}},"y":{"field":"thtL","type":"quantitative","title":null,"scale":{"domain":[-500,103500],"nice":false,"zero":false},"axis":{"values":[0,20000,40000,60000,80000,100000]}},"y2":{"field":"thtH"}}},
{"mark":{"type":"tick","orient":"horizontal","color":"black","size":8,"thickness":1.5},"encoding":{"x":{"field":"t","type":"quantitative","title":"Time (min)"},"y":{"field":"thtL","type":"quantitative","title":null}}},
{"mark":{"type":"tick","orient":"horizontal","color":"black","size":8,"thickness":1.5},"encoding":{"x":{"field":"t","type":"quantitative","title":"Time (min)"},"y":{"field":"thtH","type":"quantitative","title":null}}},
{"mark":{"type":"rule","color":"#808080","strokeWidth":1.5},"encoding":{"x":{"field":"t","type":"quantitative","title":"Time (min)"},"y":{"field":"trpL","type":"quantitative","title":null},"y2":{"field":"trpH"}}},
{"mark":{"type":"tick","orient":"horizontal","color":"#808080","size":8,"thickness":1.5},"encoding":{"x":{"field":"t","type":"quantitative","title":"Time (min)"},"y":{"field":"trpL","type":"quantitative","title":null}}},
{"mark":{"type":"tick","orient":"horizontal","color":"#808080","size":8,"thickness":1.5},"encoding":{"x":{"field":"t","type":"quantitative","title":"Time (min)"},"y":{"field":"trpH","type":"quantitative","title":null}}},
{"mark":{"type":"line","strokeWidth":2},"encoding":{"x":{"field":"t","type":"quantitative","title":"Time (min)"},"y":{"field":"trp","type":"quantitative","title":null},"stroke":{"datum":"Trp","type":"nominal"}}},
{"mark":{"type":"line","strokeWidth":2},"encoding":{"x":{"field":"t","type":"quantitative","title":"Time (min)"},"y":{"field":"tht","type":"quantitative","title":null},"stroke":{"datum":"ThT","type":"nominal","scale":{"domain":["ThT","Trp"],"range":["black","#808080"]},"legend":{"title":null}}}},
{"mark":{"type":"rule","color":"black","strokeDash":[2,5],"strokeWidth":2.2},"encoding":{"y":{"datum":3800,"type":"quantitative"}}}
]},
{"mark":{"type":"point","opacity":0},"encoding":{"x":{"field":"t","type":"quantitative","axis":{"orient":"top","labels":false,"title":null,"values":[0,200,400,600,800,1000,1200,1400]}},"y":{"field":"trp","type":"quantitative","axis":{"orient":"right","labels":false,"title":null,"values":[0,20000,40000,60000,80000,100000]}}}}
],"resolve":{"axis":{"x":"independent","y":"independent"}}}
], "spacing": 33, "resolve": {"scale": {"stroke": "independent"}, "legend": {"stroke": "independent"}}}
], "spacing": 26, "resolve": {"scale": {"stroke": "independent"}, "legend": {"stroke": "independent"}}}
]
}
